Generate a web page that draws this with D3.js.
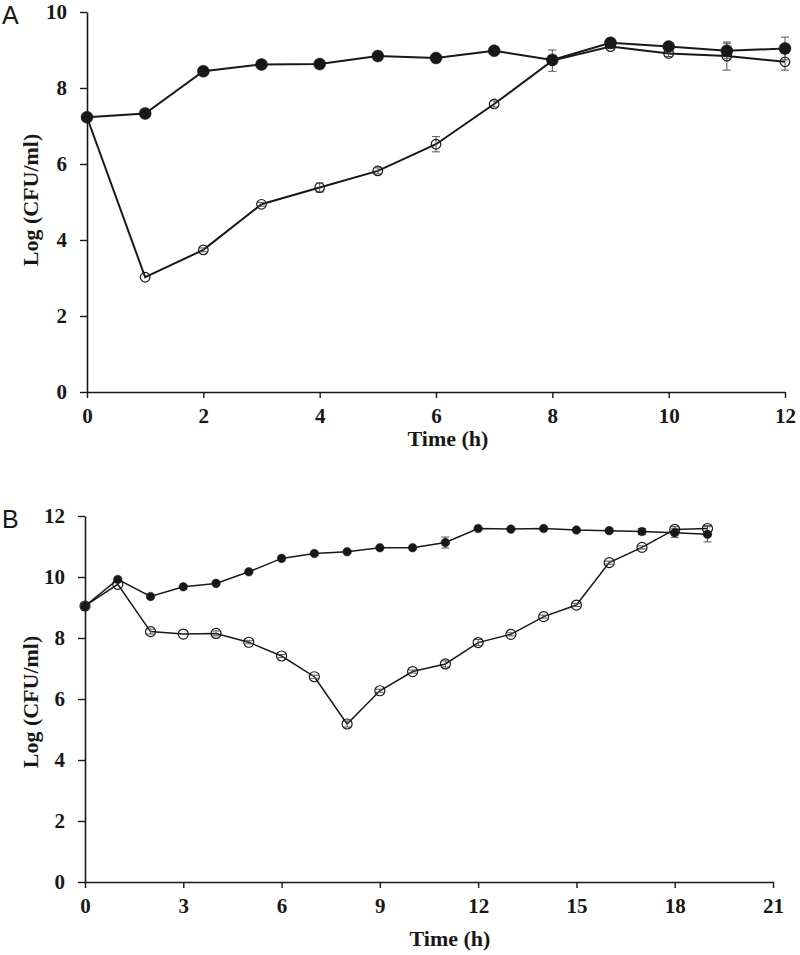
<!DOCTYPE html>
<html><head><meta charset="utf-8">
<script src="https://cdn.jsdelivr.net/npm/d3@7"></script>
<style>body{margin:0;background:#fff}svg{display:block}</style>
</head><body>
<script>
// Panel A data
const timeA = [0,1,2,3,4,5,6,7,8,9,10,11,12];
const filledA = [7.23,7.33,8.44,8.62,8.63,8.84,8.79,8.98,8.74,9.19,9.09,8.98,9.04];
const filledErrA = [0,0,0,0,0,0,0,0,0.12,0,0,0.2,0.3];
const openA = [7.23,3.02,3.74,4.94,5.38,5.82,6.52,7.58,8.72,9.09,8.91,8.84,8.69];
const openErrA = [0,0,0.05,0.05,0.12,0.08,0.2,0.08,0.28,0.05,0.08,0.37,0.22];
const yTicksA = [0,2,4,6,8,10];
const xTicksA = [0,2,4,6,8,10,12];

// Panel B data
const timeB = [0,1,2,3,4,5,6,7,8,9,10,11,12,13,14,15,16,17,18,19];
const filledB = [9.05,9.92,9.36,9.68,9.79,10.17,10.61,10.77,10.83,10.96,10.96,11.13,11.59,11.57,11.59,11.54,11.52,11.49,11.45,11.40];
const filledErrB = [0,0,0,0,0,0,0,0,0,0,0,0.18,0,0,0,0,0,0.1,0.15,0.25];
const openB = [9.05,9.76,8.21,8.13,8.15,7.86,7.41,6.73,5.18,6.27,6.90,7.15,7.85,8.12,8.70,9.08,10.47,10.97,11.56,11.59];
const openErrB = [0,0,0.08,0,0.08,0.05,0.05,0.05,0.1,0.05,0.05,0.1,0.1,0.05,0.05,0.05,0.05,0.05,0.1,0.1];
const yTicksB = [0,2,4,6,8,10,12];
const xTicksB = [0,3,6,9,12,15,18,21];

const W = 800, H = 955;
const svg = d3.select("body").append("svg").attr("width", W).attr("height", H);
const ink = "#1a1718";
const serif = "'Liberation Serif','Times New Roman',serif";

function panel(o) {
  const g = svg.append("g");
  const x = d3.scaleLinear().domain(o.xDomain).range([o.left, o.right]);
  const y = d3.scaleLinear().domain(o.yDomain).range([o.bottom, o.top]);

  const xAxis = g.append("g").attr("transform", `translate(0,${o.bottom})`)
    .call(d3.axisBottom(x).tickValues(o.xTicks).tickSize(6).tickSizeOuter(0).tickPadding(6));
  const yAxis = g.append("g").attr("transform", `translate(${o.left},0)`)
    .call(d3.axisLeft(y).tickValues(o.yTicks).tickSize(7).tickSizeOuter(0).tickPadding(13));
  [xAxis, yAxis].forEach(a => {
    a.select(".domain").attr("stroke", ink).attr("stroke-width", 1.6);
    a.selectAll(".tick line").attr("stroke", ink).attr("stroke-width", 1.4);
    a.selectAll("text").attr("fill", ink).attr("font-family", serif)
      .attr("font-weight", "bold").attr("font-size", 21);
  });
  xAxis.selectAll("text").attr("dy", "0.92em");

  g.append("text").attr("x", o.xTitleX).attr("y", o.xTitleY)
    .attr("text-anchor", "middle").attr("font-family", serif).attr("font-weight", "bold")
    .attr("font-size", 22).attr("fill", ink).text("Time (h)");
  g.append("text").attr("transform", `translate(${o.yTitleX},${o.yTitleY}) rotate(-90)`)
    .attr("text-anchor", "middle").attr("font-family", serif).attr("font-weight", "bold")
    .attr("font-size", 22).attr("fill", ink).text("Log (CFU/ml)");
  g.append("text").attr("x", 2).attr("y", o.labelY).attr("font-family", "'Liberation Sans',Arial,sans-serif")
    .attr("font-size", 25).attr("fill", ink).text(o.label);

  const line = d3.line().x(d => x(d[0])).y(d => y(d[1]));
  const series = [
    {vals: o.open, err: o.openErr, filled: false},
    {vals: o.filled, err: o.filledErr, filled: true}
  ];
  series.forEach(s => {
    const pts = o.time.map((t, i) => [t, s.vals[i], s.err[i]]);
    g.append("path").datum(pts).attr("d", line).attr("fill", "none")
      .attr("stroke", ink).attr("stroke-width", o.lw);
  });
  series.forEach(s => {
    const pts = o.time.map((t, i) => [t, s.vals[i], s.err[i]]);
    const eb = g.append("g").attr("stroke", "#555").attr("stroke-width", 1);
    pts.filter(d => d[2] > 0).forEach(d => {
      eb.append("line").attr("x1", x(d[0])).attr("x2", x(d[0]))
        .attr("y1", y(d[1] - d[2])).attr("y2", y(d[1] + d[2]));
      [d[1] - d[2], d[1] + d[2]].forEach(v => {
        eb.append("line").attr("x1", x(d[0]) - 4).attr("x2", x(d[0]) + 4)
          .attr("y1", y(v)).attr("y2", y(v));
      });
    });
    g.selectAll(null).data(pts).enter().append("circle")
      .attr("cx", d => x(d[0])).attr("cy", d => y(d[1]))
      .attr("r", s.filled ? o.rFilled : o.rOpen)
      .attr("fill", s.filled ? ink : "none")
      .attr("stroke", ink).attr("stroke-width", s.filled ? 0.5 : 1.2);
  });
}

panel({
  label: "A", labelY: 24,
  time: timeA, filled: filledA, filledErr: filledErrA, open: openA, openErr: openErrA,
  xDomain: [0, 12], yDomain: [0, 10], xTicks: xTicksA, yTicks: yTicksA,
  left: 87, right: 785, top: 12, bottom: 392,
  xTitleX: 448, xTitleY: 446, yTitleX: 38, yTitleY: 200,
  lw: 2, rFilled: 6, rOpen: 4.8
});
panel({
  label: "B", labelY: 528,
  time: timeB, filled: filledB, filledErr: filledErrB, open: openB, openErr: openErrB,
  xDomain: [0, 21], yDomain: [0, 12], xTicks: xTicksB, yTicks: yTicksB,
  left: 85, right: 773, top: 516, bottom: 882,
  xTitleX: 450, xTitleY: 946, yTitleX: 38, yTitleY: 702,
  lw: 1.5, rFilled: 4.3, rOpen: 5
});
</script>
</body></html>
